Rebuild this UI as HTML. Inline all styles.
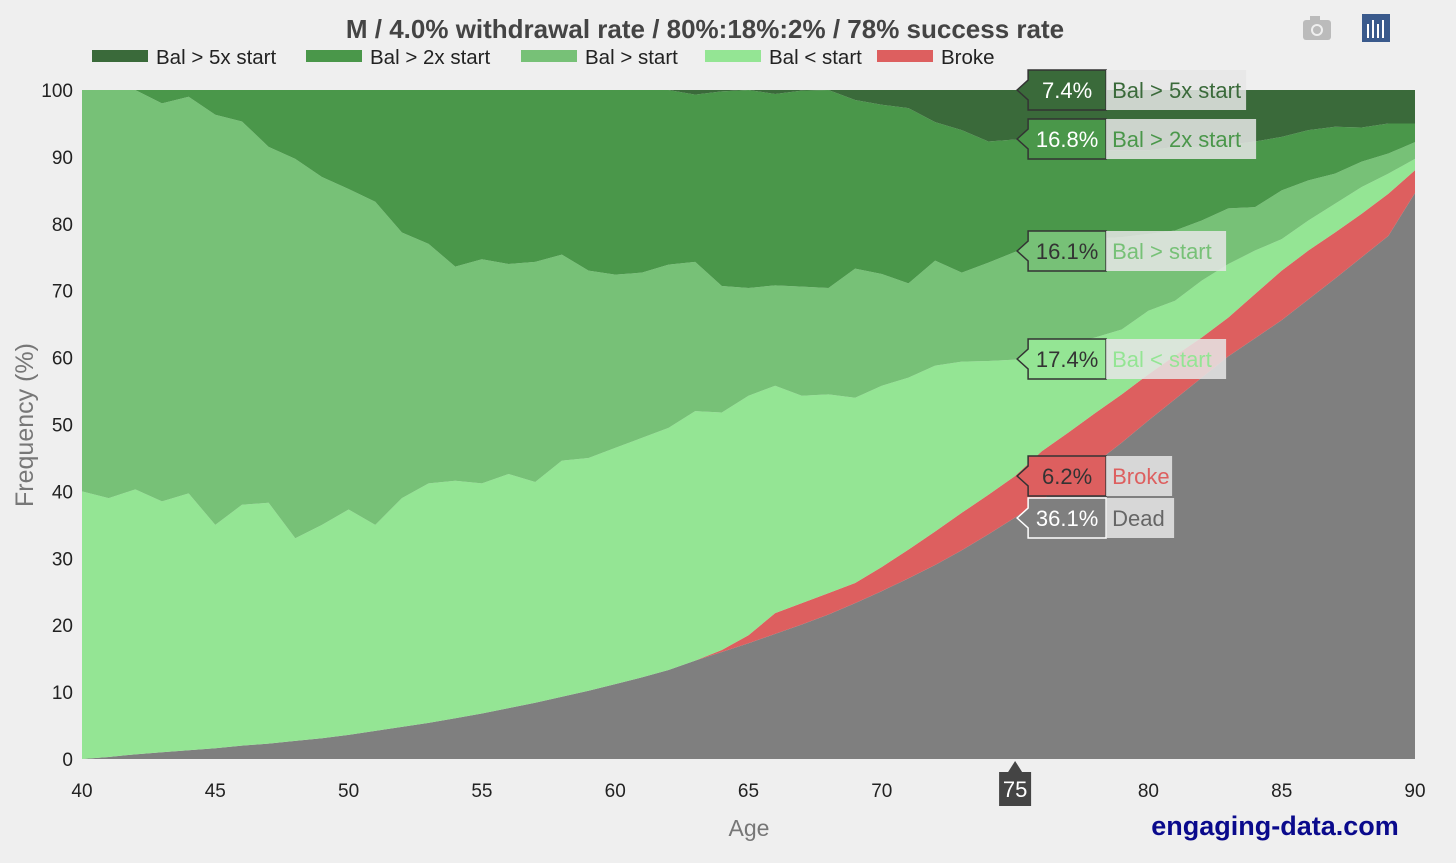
<!DOCTYPE html>
<html><head><meta charset="utf-8">
<style>
body{margin:0;background:#efefef;font-family:"Liberation Sans",Arial,sans-serif;}
svg{display:block}
</style></head>
<body>
<svg id="chart" width="1456" height="863">
<rect width="1456" height="863" fill="#efefef"/>
<text x="705" y="38" text-anchor="middle" font-size="26" font-weight="bold" fill="#444">M / 4.0% withdrawal rate / 80%:18%:2% / 78% success rate</text>
<g id="legend"></g>
<g id="areas"></g>
<g id="axes"></g>
<g id="hover"></g>
<text x="33" y="425" transform="rotate(-90 33 425)" text-anchor="middle" font-size="25" fill="#777">Frequency (%)</text>
<text x="749" y="836" text-anchor="middle" font-size="23" fill="#777">Age</text>
<text x="1275" y="835" text-anchor="middle" font-size="27" font-weight="bold" fill="#0a0a8c">engaging-data.com</text>
<g><rect x="1303" y="20" width="28" height="20" rx="3" fill="#bbb"/><rect x="1310" y="16" width="10" height="6" fill="#bbb"/><circle cx="1317" cy="30" r="6" fill="#efefef"/><circle cx="1317" cy="30" r="4" fill="#bbb"/></g>
<g><rect x="1362" y="14" width="28" height="28" fill="#3a5a8c"/><rect x="1367" y="24" width="2" height="14" fill="#fff"/><rect x="1372" y="20" width="2" height="18" fill="#fff"/><rect x="1377" y="24" width="2" height="14" fill="#fff"/><rect x="1382" y="20" width="2" height="18" fill="#fff"/></g>
</svg>
<script>
const ages=[];for(let a=40;a<=90;a++)ages.push(a);
const deadTop=[0,0.3,0.7,1,1.3,1.6,2,2.3,2.7,3.1,3.6,4.2,4.8,5.4,6.1,6.8,7.6,8.4,9.3,10.2,11.2,12.2,13.3,14.7,16,17.3,18.7,20.1,21.6,23.3,25.1,27,29,31.2,33.6,36.1,38.7,41.4,44.2,47.3,50.6,53.8,57,60.2,62.9,65.6,68.7,71.8,75,78.2,84.6];
const brokeTop=[0,0.3,0.7,1,1.3,1.6,2,2.3,2.7,3.1,3.6,4.2,4.8,5.4,6.1,6.8,7.6,8.4,9.3,10.2,11.2,12.2,13.3,14.7,16.3,18.5,21.8,23.3,24.8,26.3,28.7,31.3,34,36.8,39.5,42.3,46,48.8,51.7,54.5,57.5,60.3,63,66,69.5,73,76,78.7,81.5,84.5,88];
const ltTop=[40,39,40.3,38.5,39.7,35,38,38.3,33,35,37.3,35,39,41.2,41.6,41.2,42.6,41.4,44.6,45,46.5,48,49.5,52,51.8,54.3,55.8,54.3,54.5,54,55.8,57,58.8,59.4,59.5,59.7,61,62,63,64.2,67,68.5,71.5,74,76,77.7,80.5,83,85.5,87.5,89.7];
const midTop=[100,100,100,98,99,96.3,95.3,91.5,89.7,87,85.2,83.3,78.7,77,73.6,74.7,74,74.3,75.4,73,72.4,72.7,73.9,74.3,70.7,70.4,70.8,70.6,70.4,73.3,72.5,71.1,74.5,72.7,74.2,75.8,77,77.5,77.8,78,78.5,79,80.5,82.3,82.5,85,86.5,87.5,89.3,90.5,92.2];
const g2Top=[100,100,100,100,100,100,100,100,100,100,100,100,100,100,100,100,100,100,100,100,100,100,100,99.3,99.8,100,99.4,99.9,100,98.5,97.8,97.3,95.2,94,92.3,92.6,91.5,91.3,91,91,91,91.5,91.5,91.8,92.3,93,94,94.5,94.4,95,95];
const g5Top=ages.map(()=>100);
const names=["Dead","Broke","Bal < start","Bal > start","Bal > 2x start","Bal > 5x start"];
const colors=["#7f7f7f","#dd5f5f","#94e594","#77c177","#4a974a","#3a6a3a"];
const tops=[deadTop,brokeTop,ltTop,midTop,g2Top,g5Top];
const xTicks=[40,45,50,55,60,65,70,75,80,85,90];
const yTicks=[0,10,20,30,40,50,60,70,80,90,100];
const hoverAge=75;
const hoverVals=["36.1%","6.2%","17.4%","16.1%","16.8%","7.4%"];

const X=a=>82+(a-40)*(1415-82)/50, Y=v=>759-v*(759-90)/100;
const NS="http://www.w3.org/2000/svg";
function mk(tag,attrs,parent){const e=document.createElementNS(NS,tag);for(const k in attrs)e.setAttribute(k,attrs[k]);parent.appendChild(e);return e;}
const areas=document.getElementById('areas');
for(let s=0;s<6;s++){
  const lo=s?tops[s-1]:ages.map(()=>0);
  let d="M"+ages.map((a,i)=>X(a)+","+Y(tops[s][i])).join("L");
  for(let i=ages.length-1;i>=0;i--)d+="L"+X(ages[i])+","+Y(lo[i]);
  const p=mk('path',{d:d+"Z",fill:colors[s]},areas);
  
  
}
const axes=document.getElementById('axes');
yTicks.forEach(v=>{const t=mk('text',{x:73,y:Y(v)+7,'text-anchor':'end','font-size':19,fill:'#222'},axes);t.textContent=v;
  
  });
xTicks.forEach(a=>{if(a===hoverAge)return;const t=mk('text',{x:X(a),y:797,'text-anchor':'middle','font-size':19,fill:'#222'},axes);t.textContent=a;
  
  });
const hx=X(hoverAge);
const hb=mk('g',{},axes);


mk('path',{d:`M${hx},761L${hx+7},772L${hx+16},772L${hx+16},806L${hx-16},806L${hx-16},772L${hx-7},772Z`,fill:'#444'},hb);
mk('text',{x:hx,y:797,'text-anchor':'middle','font-size':22,fill:'#fff'},hb).textContent=hoverAge;
// legend
const leg=document.getElementById('legend');
const legX=[92,306,521,705,877];
for(let i=0;i<5;i++){const s=5-i;const g=mk('g',{},leg);
  
  
  mk('rect',{x:legX[i],y:50,width:56,height:12,fill:colors[s]},g);
  mk('text',{x:legX[i]+64,y:64,'font-size':20.5,fill:'#222'},g).textContent=names[s];}
// hover labels
const hv=document.getElementById('hover');
const ly=[518,476,359,251,139,90];
const txtCol=["#fff","#333","#333","#333","#fff","#fff"];
const lblCol=["#666","#dd5f5f","#94e594","#77c177","#4a974a","#3a6a3a"];
const widths=[68,66,120,120,150,140];
for(let s=0;s<6;s++){const g=mk('g',{},hv);
  
  
  const y=ly[s],x0=hx+13,w=78;
  mk('path',{d:`M${hx+2},${y}L${x0},${y-10}L${x0},${y-20}L${x0+w},${y-20}L${x0+w},${y+20}L${x0},${y+20}L${x0},${y+10}Z`,fill:colors[s],stroke:s===0?'#fff':'#333','stroke-width':1.5},g);
  mk('text',{x:x0+w/2,y:y+8,'text-anchor':'middle','font-size':22,fill:txtCol[s]},g).textContent=hoverVals[s];
  mk('rect',{x:x0+w,y:y-20,width:widths[s],height:40,fill:'rgba(230,230,230,0.85)'},g);
  mk('text',{x:x0+w+6,y:y+8,'font-size':22,fill:lblCol[s]},g).textContent=names[s];
}
</script>
</body></html>
